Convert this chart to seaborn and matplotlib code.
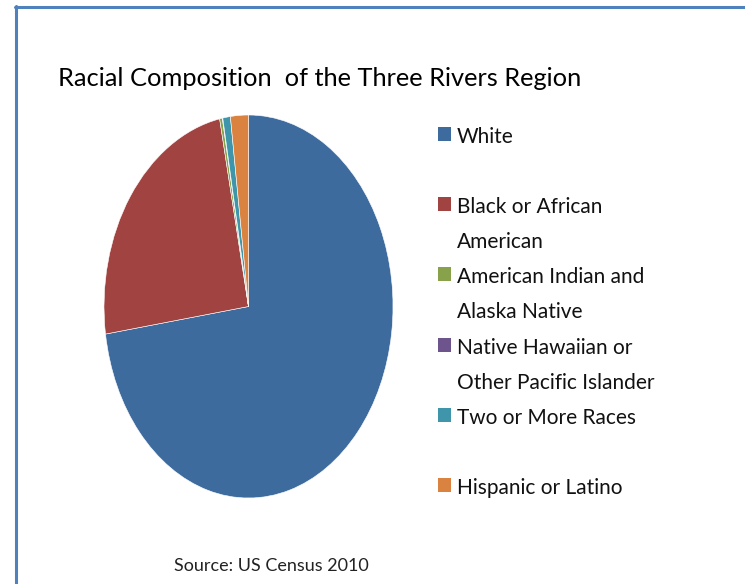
import matplotlib
matplotlib.use("Agg")
import matplotlib.pyplot as plt
import seaborn as sns
from matplotlib.lines import Line2D
from matplotlib.patches import Rectangle

# Census 2010 shares (%) for the Three Rivers Region
categories = [
    "White",
    "Black or African\nAmerican",
    "American Indian and\nAlaska Native",
    "Native Hawaiian or\nOther Pacific Islander",
    "Two or More Races",
    "Hispanic or Latino",
]
shares = [72.7, 24.1, 0.3, 0.05, 0.85, 2.0]
colors = ["#3E6B9E", "#A14340", "#87A24B", "#6E548C", "#3F96AB", "#DA8240"]
title = "Racial Composition  of the Three Rivers Region"
source = "Source: US Census 2010"

sns.set_theme(style="white")
plt.rcParams["font.family"] = ["Lato", "DejaVu Sans"]

W, H = 745, 584
fig = plt.figure(figsize=(W / 100, H / 100), dpi=100)
fig.patch.set_facecolor("white")


def fx(px):
    return px / W


def fy(py):
    return 1 - py / H


# pie (stretched vertically, like the original chart object)
ax = fig.add_axes([fx(104), fy(498), (393 - 104) / W, (498 - 115) / H])
wedges, _ = ax.pie(
    shares,
    colors=colors,
    startangle=90,
    counterclock=False,
    wedgeprops=dict(edgecolor="white", linewidth=0.4),
)
ax.set_aspect("auto")
ax.set_xlim(-1, 1)
ax.set_ylim(-1, 1)
ax.axis("off")

# title and source note
fig.text(fx(58), fy(86), title, fontsize=18.3, color="black",
         ha="left", va="baseline")
fig.text(fx(271), fy(571), source, fontsize=13, color="#222222",
         ha="center", va="baseline")

# legend: one slot per category, wrapped labels on two lines
slot = 70.2
line_gap = 35
for i, (label, wedge) in enumerate(zip(categories, wedges)):
    base = 143 + slot * i
    fig.add_artist(Rectangle((fx(438), fy(base - 2)), 13 / W, 14 / H,
                             transform=fig.transFigure,
                             facecolor=wedge.get_facecolor(),
                             edgecolor="none"))
    for j, line in enumerate(label.split("\n")):
        fig.text(fx(457), fy(base + j * line_gap), line, fontsize=15,
                 color="#111111", ha="left", va="baseline")

# chart-area frame (top and left edges)
frame_color = "#4F81BD"
fig.add_artist(Line2D([fx(15), 1], [fy(6.5), fy(6.5)], transform=fig.transFigure,
                      color=frame_color, linewidth=2.2))
fig.add_artist(Line2D([fx(16), fx(16)], [fy(6), 0], transform=fig.transFigure,
                      color=frame_color, linewidth=2.2))

fig.savefig("out.png", dpi=100, facecolor="white")
